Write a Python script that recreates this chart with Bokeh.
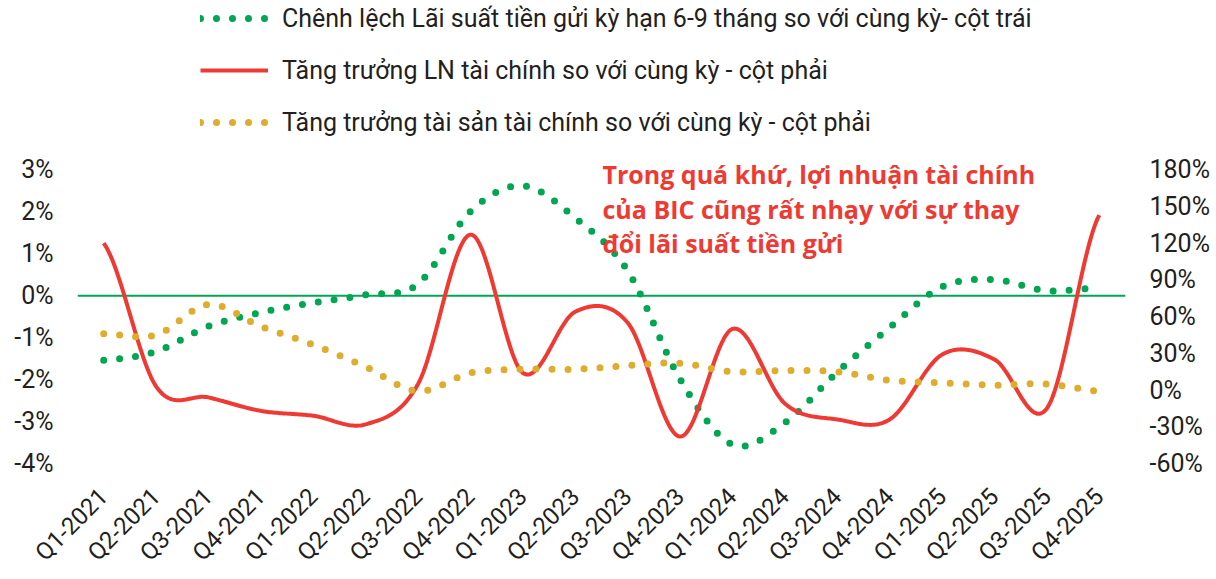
import math
import numpy as np
from bokeh.plotting import figure
from bokeh.models import (Range1d, LinearAxis, FixedTicker, Span, Label, Legend,
                          LegendItem, ColumnDataSource, PrintfTickFormatter,
                          CustomJSTickFormatter)
from bokeh.embed import file_html
from bokeh.resources import INLINE

quarters = ["Q1-2021", "Q2-2021", "Q3-2021", "Q4-2021",
            "Q1-2022", "Q2-2022", "Q3-2022", "Q4-2022",
            "Q1-2023", "Q2-2023", "Q3-2023", "Q4-2023",
            "Q1-2024", "Q2-2024", "Q3-2024", "Q4-2024",
            "Q1-2025", "Q2-2025", "Q3-2025", "Q4-2025"]
# left axis (%)
rate_gap = [-1.54, -1.33, -0.73, -0.40, -0.17, 0.02, 0.28, 2.01, 2.62, 1.85,
            0.59, -1.99, -3.55, -3.03, -1.82, -0.76, 0.21, 0.38, 0.12, 0.19]
# right axis (%)
profit_growth = [120, 3, -6, -17, -21, -28, 5, 127, 14, 64,
                 55, -38, 50, -11, -24, -24, 29, 25, -15, 143]
asset_growth = [46, 45, 70, 52, 37, 19, -1, 14, 17, 17,
                20, 22, 15, 16, 15, 8, 6, 4, 5, -1]
left_ticks = [-4, -3, -2, -1, 0, 1, 2, 3]
right_ticks = [-60, -30, 0, 30, 60, 90, 120, 150, 180]

label_gap = "Chênh lệch Lãi suất tiền gửi kỳ hạn 6-9 tháng so với cùng kỳ- cột trái"
label_profit = "Tăng trưởng LN tài chính so với cùng kỳ - cột phải"
label_asset = "Tăng trưởng tài sản tài chính so với cùng kỳ - cột phải"
note_lines = ["Trong quá khứ, lợi nhuận tài chính",
              "của BIC cũng rất nhạy với sự thay",
              "đổi lãi suất tiền gửi"]

GREEN = "#00A651"
RED = "#EE3A33"
YELLOW = "#DFAC2C"
TXT = "#231F20"
FONT = "Roboto"


def smooth(ys, n=30):
    """Catmull-Rom rendering of a series placed at category centres."""
    ys = np.asarray(ys, float)
    xs = np.arange(len(ys)) + 0.5
    py = np.concatenate([[ys[0]], ys, [ys[-1]]])
    px = np.concatenate([[xs[0] - 1], xs, [xs[-1] + 1]])
    ox, oy = [], []
    t = np.linspace(0, 1, n, endpoint=False)
    h00 = 2 * t**3 - 3 * t**2 + 1
    h10 = t**3 - 2 * t**2 + t
    h01 = -2 * t**3 + 3 * t**2
    h11 = t**3 - t**2
    for i in range(1, len(px) - 2):
        for p, o in ((px, ox), (py, oy)):
            m1 = (p[i + 1] - p[i - 1]) / 2
            m2 = (p[i + 2] - p[i]) / 2
            o.extend(h00 * p[i] + h10 * m1 + h01 * p[i + 1] + h11 * m2)
    ox.append(xs[-1])
    oy.append(ys[-1])
    return dict(x=ox, y=oy)


PX_PER_PCT = 295 / 7.0          # left axis pixels per 1 %
TOP_EXTRA = 170 / PX_PER_PCT    # room above 3 % for legend / note

p = figure(width=1216, height=579, output_backend="svg", toolbar_location=None,
           x_range=Range1d(0, 20), y_range=Range1d(-4, 3 + TOP_EXTRA),
           min_border_left=77, min_border_right=91, min_border_top=0,
           min_border_bottom=114)
p.extra_y_ranges = {"right": Range1d(-60, 180 + TOP_EXTRA * 240 / 7)}
p.grid.visible = False
p.outline_line_color = None
p.background_fill_color = "white"
p.border_fill_color = "white"

# axes
p.yaxis.ticker = FixedTicker(ticks=left_ticks)
p.yaxis.formatter = PrintfTickFormatter(format="%d%%")
ra = LinearAxis(y_range_name="right", ticker=FixedTicker(ticks=right_ticks),
                formatter=PrintfTickFormatter(format="%d%%"))
p.add_layout(ra, "right")
p.xaxis.ticker = FixedTicker(ticks=[i + 0.5 for i in range(len(quarters))])
p.xaxis.formatter = CustomJSTickFormatter(
    args=dict(labels=quarters), code="return labels[Math.round(tick - 0.5)] || '';")
p.xaxis.major_label_orientation = math.pi / 4
for ax in p.axis:
    ax.axis_line_color = None
    ax.major_tick_line_color = None
    ax.minor_tick_line_color = None
    ax.major_tick_out = 0
    ax.major_tick_in = 0
    ax.major_label_text_font = FONT
    ax.major_label_text_font_size = "25px"
    ax.major_label_text_color = TXT
    ax.major_label_standoff = 24
p.xaxis.major_label_text_font_size = "24px"
p.xaxis.major_label_standoff = 29

p.add_layout(Span(location=0, dimension="width", line_color=GREEN, line_width=2,
                  level="underlay"))

g = p.line("x", "y", source=ColumnDataSource(smooth(rate_gap)), line_color=GREEN,
           line_width=7, line_dash="0 16", line_cap="round")
r = p.line("x", "y", source=ColumnDataSource(smooth(profit_growth)), line_color=RED,
           line_width=4, line_join="round", y_range_name="right")
yl = p.line("x", "y", source=ColumnDataSource(smooth(asset_growth)), line_color=YELLOW,
            line_width=7, line_dash="0 16", line_cap="round", y_range_name="right")

legend = Legend(items=[LegendItem(label=label_gap, renderers=[g]),
                       LegendItem(label=label_profit, renderers=[r]),
                       LegendItem(label=label_asset, renderers=[yl])],
                location=(123, 326), orientation="vertical",
                glyph_width=68, glyph_height=30, label_height=30, spacing=22,
                padding=0, margin=0, label_standoff=14,
                label_text_font=FONT, label_text_font_size="25px",
                label_text_color=TXT, background_fill_alpha=0,
                border_line_color=None)
p.add_layout(legend, "center")

x0 = (602 - 77) / 52.4
for txt, base in zip(note_lines, [173, 208, 242]):
    p.add_layout(Label(x=x0, y=(295 - base) / PX_PER_PCT, text=txt,
                       text_font="Open Sans", text_font_style="bold",
                       text_font_size="25px",
                       text_color=RED, text_baseline="alphabetic", text_align="left"))

open("out.html", "w").write(file_html(p, INLINE))
